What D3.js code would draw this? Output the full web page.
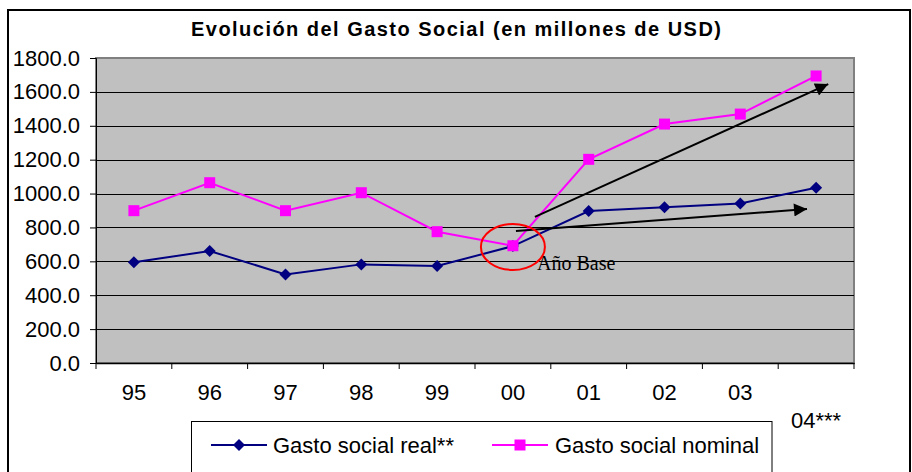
<!DOCTYPE html>
<html><head><meta charset="utf-8">
<script src="https://cdn.jsdelivr.net/npm/d3@7"></script>
<style>
html,body{margin:0;padding:0;background:#fff;}
svg{display:block;}
text{font-family:Arial,"Liberation Sans",sans-serif;}
</style></head>
<body>
<svg id="chart" width="912" height="472"></svg>
<script>
// ---- data ----
const years = ["95","96","97","98","99","00","01","02","03","04***"];
const realValues = [594, 661, 523, 582, 572, 690, 897, 919, 942, 1034];
const nominalValues = [899, 1064, 899, 1005, 775, 692, 1202, 1410, 1469, 1694];
const yTicks = [0,200,400,600,800,1000,1200,1400,1600,1800];
const seriesNames = ["Gasto social real**", "Gasto social nominal"];
const titleText = "Evolución del Gasto Social (en millones de USD)";
const annotationText = "Año Base";
// arrows: [startIndex, startValue, endIndex, endValue]
const arrows = [[5.29, 862, 9.16, 1646], [5.04, 779, 8.88, 909]];
const baseCircle = [5.0, 685];

// ---- layout ----
const svg = d3.select("#chart");
const L = 96, R = 854, T = 58, B = 363;

const x = d3.scaleBand().domain(years).range([L, R]);
const xi = d3.scaleLinear().domain([-0.5, years.length - 0.5]).range([L, R]);
const y = d3.scaleLinear().domain([0, 1800]).range([B, T]);

// outer border
svg.append("rect").attr("x", 8).attr("y", 10).attr("width", 902).attr("height", 500)
  .attr("fill", "#fff").attr("stroke", "#000").attr("stroke-width", 2);

// title
svg.append("text").attr("x", 456).attr("y", 36).attr("text-anchor", "middle")
  .attr("font-size", 20).attr("font-weight", "bold")
  .attr("textLength", 530).attr("lengthAdjust", "spacing")
  .text(titleText);

// plot area
svg.append("rect").attr("x", L).attr("y", T).attr("width", R - L).attr("height", B - T)
  .attr("fill", "#C0C0C0").attr("stroke", "#808080").attr("stroke-width", 2);

// gridlines
svg.append("g").selectAll("line").data(yTicks.filter(d => d > 0 && d < 1800)).join("line")
  .attr("x1", L).attr("x2", R).attr("y1", d => Math.round(y(d)) + 0.5).attr("y2", d => Math.round(y(d)) + 0.5)
  .attr("stroke", "#000").attr("stroke-width", 1);

// y axis
const yAxis = svg.append("g").attr("transform", `translate(${L},0)`)
  .call(d3.axisLeft(y).tickValues(yTicks).tickFormat(d3.format(".1f")).tickSize(6).tickPadding(10));
yAxis.select(".domain").attr("stroke", "#000");
yAxis.selectAll("text").attr("font-size", 22).attr("fill", "#000");

// x axis
const xAxis = svg.append("g").attr("transform", `translate(0,${B})`)
  .call(d3.axisBottom(x).tickSize(0).tickPadding(21));
xAxis.select(".domain").attr("stroke", "#000").attr("stroke-width", 1.5);
xAxis.selectAll("text").attr("font-size", 22).attr("fill", "#000")
  .attr("dy", (d, i) => i === years.length - 1 ? "2.0em" : "0.71em");
// boundary ticks
svg.append("g").selectAll("line").data(years.map(d => x(d)).concat([R])).join("line")
  .attr("x1", d => d).attr("x2", d => d).attr("y1", B).attr("y2", B + 6)
  .attr("stroke", "#000").attr("stroke-width", 1);

// lines
const line = d3.line().x((d, i) => x(years[i]) + x.bandwidth() / 2).y(d => y(d));
svg.append("path").datum(realValues).attr("d", line)
  .attr("fill", "none").attr("stroke", "#000080").attr("stroke-width", 2);
svg.append("path").datum(nominalValues).attr("d", line)
  .attr("fill", "none").attr("stroke", "#FF00FF").attr("stroke-width", 2);

const diamond = d3.symbol().type(d3.symbolSquare).size(72);
svg.append("g").selectAll("path").data(realValues).join("path")
  .attr("d", diamond)
  .attr("transform", (d, i) => `translate(${x(years[i]) + x.bandwidth()/2},${y(d)}) rotate(45)`)
  .attr("fill", "#000080");
svg.append("g").selectAll("rect").data(nominalValues).join("rect")
  .attr("x", (d, i) => x(years[i]) + x.bandwidth()/2 - 5.5).attr("y", d => y(d) - 5.5)
  .attr("width", 11).attr("height", 11).attr("fill", "#FF00FF");

// annotations
const defs = svg.append("defs");
defs.append("marker").attr("id", "ah").attr("viewBox", "0 0 10 10").attr("refX", 10).attr("refY", 5)
  .attr("markerWidth", 8).attr("markerHeight", 6.5).attr("orient", "auto").attr("markerUnits", "strokeWidth")
  .append("path").attr("d", "M0,0 L10,5 L0,10 Z").attr("fill", "#000");
svg.append("g").selectAll("line").data(arrows).join("line")
  .attr("x1", d => xi(d[0])).attr("y1", d => y(d[1]))
  .attr("x2", d => xi(d[2])).attr("y2", d => y(d[3]))
  .attr("stroke", "#000").attr("stroke-width", 2).attr("marker-end", "url(#ah)");

svg.append("ellipse").attr("cx", xi(baseCircle[0])).attr("cy", y(baseCircle[1]))
  .attr("rx", 32).attr("ry", 23).attr("fill", "none").attr("stroke", "#FF0000").attr("stroke-width", 2);
svg.append("text").attr("x", 537).attr("y", 270)
  .attr("font-size", 20).attr("fill", "#000")
  .style("font-family", "'Liberation Serif','Times New Roman',serif")
  .text(annotationText);

// legend
svg.append("rect").attr("x", 191.5).attr("y", 421.5).attr("width", 580.5).attr("height", 80)
  .attr("fill", "#fff").attr("stroke", "#000").attr("stroke-width", 1);
const legY = 445;
const leg = [
  {x1: 211, x2: 267, tx: 273, color: "#000080", name: seriesNames[0], kind: "diamond"},
  {x1: 492, x2: 548, tx: 555, color: "#FF00FF", name: seriesNames[1], kind: "square"}
];
leg.forEach(e => {
  svg.append("line").attr("x1", e.x1).attr("x2", e.x2).attr("y1", legY).attr("y2", legY)
    .attr("stroke", e.color).attr("stroke-width", 2);
  const cx = (e.x1 + e.x2) / 2;
  if (e.kind === "diamond") {
    svg.append("path").attr("d", diamond).attr("transform", `translate(${cx},${legY}) rotate(45)`).attr("fill", e.color);
  } else {
    svg.append("rect").attr("x", cx - 5.5).attr("y", legY - 5.5).attr("width", 11).attr("height", 11).attr("fill", e.color);
  }
  svg.append("text").attr("x", e.tx).attr("y", legY + 8).attr("font-size", 22).attr("fill", "#000").text(e.name);
});
</script>
</body></html>
